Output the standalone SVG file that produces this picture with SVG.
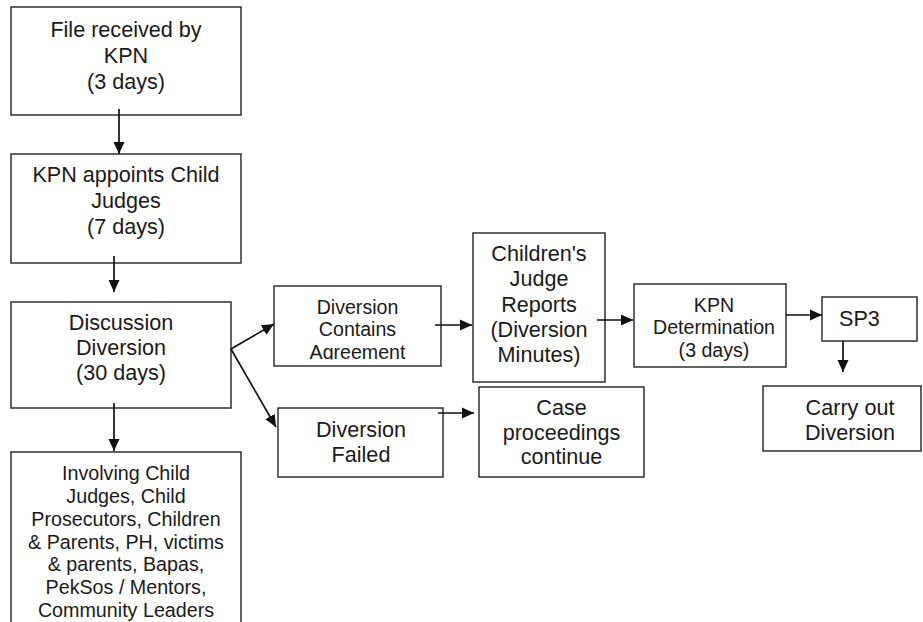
<svg xmlns="http://www.w3.org/2000/svg" width="923" height="622" viewBox="0 0 923 622">
<style>
.box{fill:#fff;stroke:#222;stroke-width:1.4}
.t{font-family:"Liberation Sans",Arial,sans-serif;fill:#1a1a1a;text-anchor:middle}
.l{font-size:21.6px}
.s{font-size:19.7px}
.m{font-size:19.6px}
.c{stroke:#111;stroke-width:1.7;fill:none;marker-end:url(#ah)}
</style>
<defs>
<marker id="ah" markerUnits="userSpaceOnUse" markerWidth="12" markerHeight="12" refX="12" refY="6" orient="auto" viewBox="0 0 12 12">
<path d="M0,0.5 L12,6 L0,11.5 z" fill="#111"/>
</marker>
<clipPath id="clipAg"><rect x="274" y="286" width="167" height="73.5"/></clipPath>
</defs>
<rect width="923" height="622" fill="#fff"/>
<g id="n1">
<rect class="box" x="11" y="7" width="230" height="108"/>
<text class="t l" x="126" y="37">File received by</text>
<text class="t l" x="126" y="63">KPN</text>
<text class="t l" x="126" y="89">(3 days)</text>
</g>
<g id="n2">
<rect class="box" x="11" y="154" width="230" height="109"/>
<text class="t l" x="126" y="182">KPN appoints Child</text>
<text class="t l" x="126" y="208">Judges</text>
<text class="t l" x="126" y="234">(7 days)</text>
</g>
<g id="n3">
<rect class="box" x="11" y="302" width="220" height="106"/>
<text class="t l" x="121" y="330">Discussion</text>
<text class="t l" x="121" y="355">Diversion</text>
<text class="t l" x="121" y="380">(30 days)</text>
</g>
<g id="n4">
<rect class="box" x="11" y="452" width="230" height="200"/>
<text class="t s" x="126" y="480">Involving Child</text>
<text class="t s" x="126" y="503">Judges, Child</text>
<text class="t s" x="126" y="526">Prosecutors, Children</text>
<text class="t s" x="126" y="549">&amp; Parents, PH, victims</text>
<text class="t s" x="126" y="571">&amp; parents, Bapas,</text>
<text class="t s" x="126" y="594">PekSos / Mentors,</text>
<text class="t s" x="126" y="617">Community Leaders</text>
</g>
<g id="n5">
<rect class="box" x="274" y="286" width="167" height="80"/>
<g clip-path="url(#clipAg)">
<text class="t m" x="357.5" y="314">Diversion</text>
<text class="t m" x="357.5" y="336">Contains</text>
<text class="t m" x="357.5" y="358.5">Agreement</text>
</g>
</g>
<g id="n6">
<rect class="box" x="278" y="408" width="165" height="69"/>
<text class="t l" x="361" y="437">Diversion</text>
<text class="t l" x="361" y="462">Failed</text>
</g>
<g id="n7">
<rect class="box" x="473" y="233" width="132" height="149"/>
<text class="t l" x="539" y="261">Children's</text>
<text class="t l" x="539" y="286">Judge</text>
<text class="t l" x="539" y="312">Reports</text>
<text class="t l" x="539" y="337">(Diversion</text>
<text class="t l" x="539" y="362">Minutes)</text>
</g>
<g id="n8">
<rect class="box" x="479" y="387" width="165" height="90"/>
<text class="t l" x="561.5" y="415">Case</text>
<text class="t l" x="561.5" y="440">proceedings</text>
<text class="t l" x="561.5" y="464">continue</text>
</g>
<g id="n9">
<rect class="box" x="634" y="284" width="152" height="83"/>
<text class="t m" x="714" y="312">KPN</text>
<text class="t m" x="714" y="334">Determination</text>
<text class="t m" x="714" y="357">(3 days)</text>
</g>
<g id="n10">
<rect class="box" x="822" y="297" width="95" height="44"/>
<text class="t l" x="839" y="326" style="text-anchor:start">SP3</text>
</g>
<g id="n11">
<rect class="box" x="763" y="386" width="158" height="65"/>
<text class="t l" x="850" y="415">Carry out</text>
<text class="t l" x="850" y="440">Diversion</text>
</g>
<g id="connectors">
<line class="c" x1="119" y1="109" x2="119" y2="154"/>
<line class="c" x1="114" y1="256" x2="114" y2="292"/>
<line class="c" x1="114" y1="403" x2="114" y2="451"/>
<line class="c" x1="231" y1="349" x2="274" y2="324"/>
<line class="c" x1="231" y1="349" x2="276" y2="427"/>
<line class="c" x1="435" y1="325" x2="472" y2="325"/>
<line class="c" x1="597" y1="320" x2="633" y2="320"/>
<line class="c" x1="438" y1="413" x2="474" y2="413"/>
<line class="c" x1="786" y1="315" x2="822" y2="315"/>
<line class="c" x1="843" y1="341" x2="843" y2="372"/>
</g>
</svg>
